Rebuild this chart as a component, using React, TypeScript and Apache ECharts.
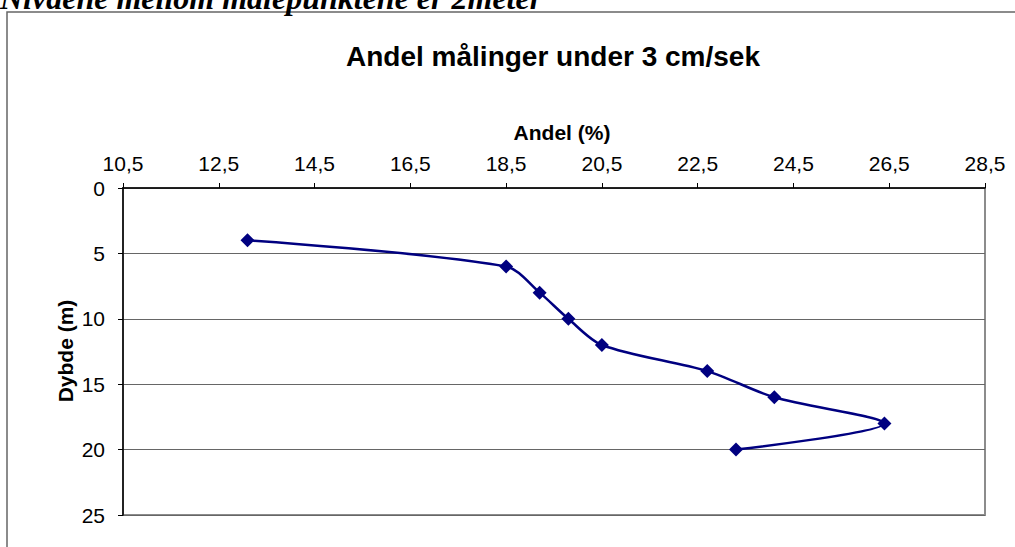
import React, { useEffect, useRef } from "react";
import * as echarts from "echarts";

const caption = "Nivåene mellom målepunktene er 2meter";
const chartTitle = "Andel målinger under 3 cm/sek";
const xAxisTitle = "Andel (%)";
const yAxisTitle = "Dybde (m)";
const xTicks = [10.5, 12.5, 14.5, 16.5, 18.5, 20.5, 22.5, 24.5, 26.5, 28.5];
const depth = [4, 6, 8, 10, 12, 14, 16, 18, 20];
const andel = [13.1, 18.5, 19.2, 19.8, 20.5, 22.7, 24.1, 26.4, 23.3];

export default function App() {
  const ref = useRef<HTMLDivElement>(null);
  useEffect(() => {
    document.body.style.margin = "0";
    const chart = echarts.init(ref.current!, undefined, { renderer: "svg" });
    const fmt = (v: number) => String(v).replace(".", ",");
    chart.setOption({
      animation: false,
      backgroundColor: "#fff",
      textStyle: { fontFamily: "Liberation Sans" },
      grid: {
        left: 123,
        top: 188,
        width: 862,
        height: 327,
        show: true,
        borderColor: "#8c8c8c",
        borderWidth: 2,
        containLabel: false,
      },
      xAxis: {
        type: "value",
        position: "top",
        min: xTicks[0],
        max: xTicks[xTicks.length - 1],
        axisLine: { show: true, lineStyle: { color: "#000", width: 1.5 } },
        axisTick: { show: true, length: 5, lineStyle: { color: "#000" }, customValues: xTicks },
        axisLabel: {
          customValues: xTicks,
          formatter: fmt,
          color: "#000",
          fontSize: 21,
          margin: 14,
          fontFamily: "Liberation Sans",
        },
        splitLine: { show: false },
      },
      yAxis: {
        type: "value",
        inverse: true,
        min: 0,
        max: 25,
        interval: 5,
        axisLine: { show: true, lineStyle: { color: "#000", width: 1.5 } },
        axisTick: { show: true, length: 5, lineStyle: { color: "#000" } },
        axisLabel: { color: "#000", fontSize: 21, margin: 18, fontFamily: "Liberation Sans" },
        splitLine: { show: true, lineStyle: { color: "#666", width: 1 } },
      },
      series: [
        {
          type: "line",
          data: andel.map((a, i) => [a, depth[i]]),
          smooth: 0.3,
          symbol: "diamond",
          symbolSize: 14,
          lineStyle: { color: "#000080", width: 2.5 },
          itemStyle: { color: "#000080" },
        },
      ],
      graphic: [
        {
          type: "rect",
          z: -1,
          shape: { x: 7, y: 12, width: 1100, height: 700 },
          style: { fill: "none", stroke: "#666", lineWidth: 1.5 },
        },
        {
          type: "text",
          x: 0,
          y: -2,
          style: {
            text: caption,
            font: "italic bold 32px 'Liberation Serif'",
            fill: "#000",
            textAlign: "left",
            textVerticalAlign: "middle",
          },
        },
        {
          type: "text",
          x: 553,
          y: 56,
          style: {
            text: chartTitle,
            font: "bold 28px 'Liberation Sans'",
            fill: "#000",
            textAlign: "center",
            textVerticalAlign: "middle",
          },
        },
        {
          type: "text",
          x: 562,
          y: 132,
          style: {
            text: xAxisTitle,
            font: "bold 21px 'Liberation Sans'",
            fill: "#000",
            textAlign: "center",
            textVerticalAlign: "middle",
          },
        },
        {
          type: "text",
          x: 65,
          y: 351,
          rotation: Math.PI / 2,
          style: {
            text: yAxisTitle,
            font: "bold 21px 'Liberation Sans'",
            fill: "#000",
            textAlign: "center",
            textVerticalAlign: "middle",
          },
        },
      ],
    });
    return () => chart.dispose();
  }, []);
  return <div ref={ref} style={{ width: 1015, height: 547 }} />;
}
